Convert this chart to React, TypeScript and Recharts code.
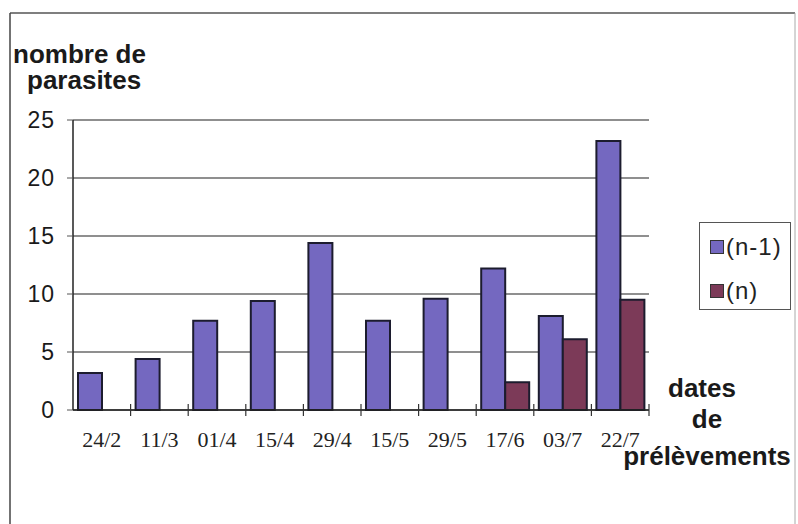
import { Bar, BarChart, CartesianGrid, Legend, XAxis, YAxis } from 'recharts'

const dates = ['24/2', '11/3', '01/4', '15/4', '29/4', '15/5', '29/5', '17/6', '03/7', '22/7']
const prevYear = [3.2, 4.4, 7.7, 9.4, 14.4, 7.7, 9.6, 12.2, 8.1, 23.2]
const thisYear = [null, null, null, null, null, null, null, 2.4, 6.1, 9.5]
const seriesNames = ['(n-1)', '(n)']
const yTicks = [0, 5, 10, 15, 20, 25]

const W = 798
const H = 524
const MARGIN = { top: 120, right: 149, bottom: 84, left: 0 }
const Y_W = 73
const BAND = (W - Y_W - MARGIN.right) / dates.length

const SANS = '"Liberation Sans", Arial, sans-serif'
const SERIF = '"Liberation Serif", "Times New Roman", serif'

const data = dates.map((date, i) => ({ date, prev: prevYear[i], curr: thisYear[i] }))

// label centred under the band, small ticks on the band edges
function DateTick({ x, y, payload, index }: any) {
  const half = BAND / 2
  const edge = (px: number) => <line x1={px} x2={px} y1={y - 6} y2={y + 6} stroke="#333" strokeWidth={1.2} />
  return (
    <g>
      {index > 0 && edge(x - half)}
      {index === dates.length - 1 && edge(x + half)}
      <text x={x} y={y + 37} textAnchor="middle" fontFamily={SERIF} fontSize={22} fill="#222">
        {payload.value}
      </text>
    </g>
  )
}

function LegendBox({ payload }: any) {
  // keep series order, recharts sorts legend items by name
  const items = [...(payload ?? [])].sort((a: any, b: any) => seriesNames.indexOf(a.value) - seriesNames.indexOf(b.value))
  return (
    <div
      style={{
        border: '1.5px solid #555',
        width: 92,
        height: 88,
        boxSizing: 'border-box',
        padding: '12px 0 0 10px',
        fontFamily: SANS,
        fontSize: 24,
        letterSpacing: 1,
        color: '#222',
      }}
    >
      {items.map((p: any) => (
        <div key={p.value} style={{ display: 'flex', alignItems: 'center', height: 24, marginBottom: 20 }}>
          <span
            style={{
              width: 12,
              height: 12,
              background: p.color,
              border: '1.5px solid #333',
              marginRight: 2,
              display: 'inline-block',
            }}
          />
          {p.value}
        </div>
      ))}
    </div>
  )
}

export default function App() {
  return (
    <div style={{ position: 'absolute', left: 0, top: 0, width: W, height: H, background: '#fff', overflow: 'hidden' }}>
      <BarChart width={W} height={H} data={data} margin={MARGIN} barCategoryGap={5} barGap={0}>
        <CartesianGrid horizontal vertical={false} stroke="#6a6a6a" strokeWidth={1.3} />
        <XAxis
          dataKey="date"
          interval={0}
          tickLine={false}
          tickSize={0}
          tickMargin={0}
          height={30}
          axisLine={{ stroke: '#222', strokeWidth: 1.5 }}
          tick={<DateTick />}
        />
        <YAxis
          width={Y_W}
          domain={[0, 25]}
          ticks={yTicks}
          tickSize={6}
          tickMargin={12}
          axisLine={{ stroke: '#222', strokeWidth: 1.5 }}
          tickLine={{ stroke: '#555' }}
          tick={{ fontFamily: SANS, fontSize: 23, fill: '#1a1a1a', letterSpacing: 1 }}
        />
        <Legend
          layout="horizontal"
          verticalAlign="middle"
          align="center"
          wrapperStyle={{ left: 699, top: 222, width: 94, height: 90 }}
          content={<LegendBox />}
        />
        <Bar dataKey="prev" name={seriesNames[0]} fill="#7468c0" stroke="#1c1c2e" strokeWidth={2} isAnimationActive={false} />
        <Bar dataKey="curr" name={seriesNames[1]} fill="#7c3a58" stroke="#1c1c2e" strokeWidth={2} isAnimationActive={false} />
      </BarChart>
      <svg width={W} height={H} style={{ position: 'absolute', left: 0, top: 0, pointerEvents: 'none' }}>
        <line x1={10} x2={795} y1={13} y2={13} stroke="#555" strokeWidth={1.5} />
        <line x1={10} x2={10} y1={13} y2={H} stroke="#444" strokeWidth={1.5} />
        <line x1={795} x2={795} y1={13} y2={H} stroke="#aaa" strokeWidth={1} />
        <g fontFamily={SANS} fontWeight="bold" fontSize={26} fill="#1a1a1a">
          <text x={13} y={63}>nombre de</text>
          <text x={27} y={89}>parasites</text>
          <text x={702} y={397} textAnchor="middle">dates</text>
          <text x={707} y={428} textAnchor="middle">de</text>
          <text x={707} y={465} textAnchor="middle">prélèvements</text>
        </g>
      </svg>
    </div>
  )
}
